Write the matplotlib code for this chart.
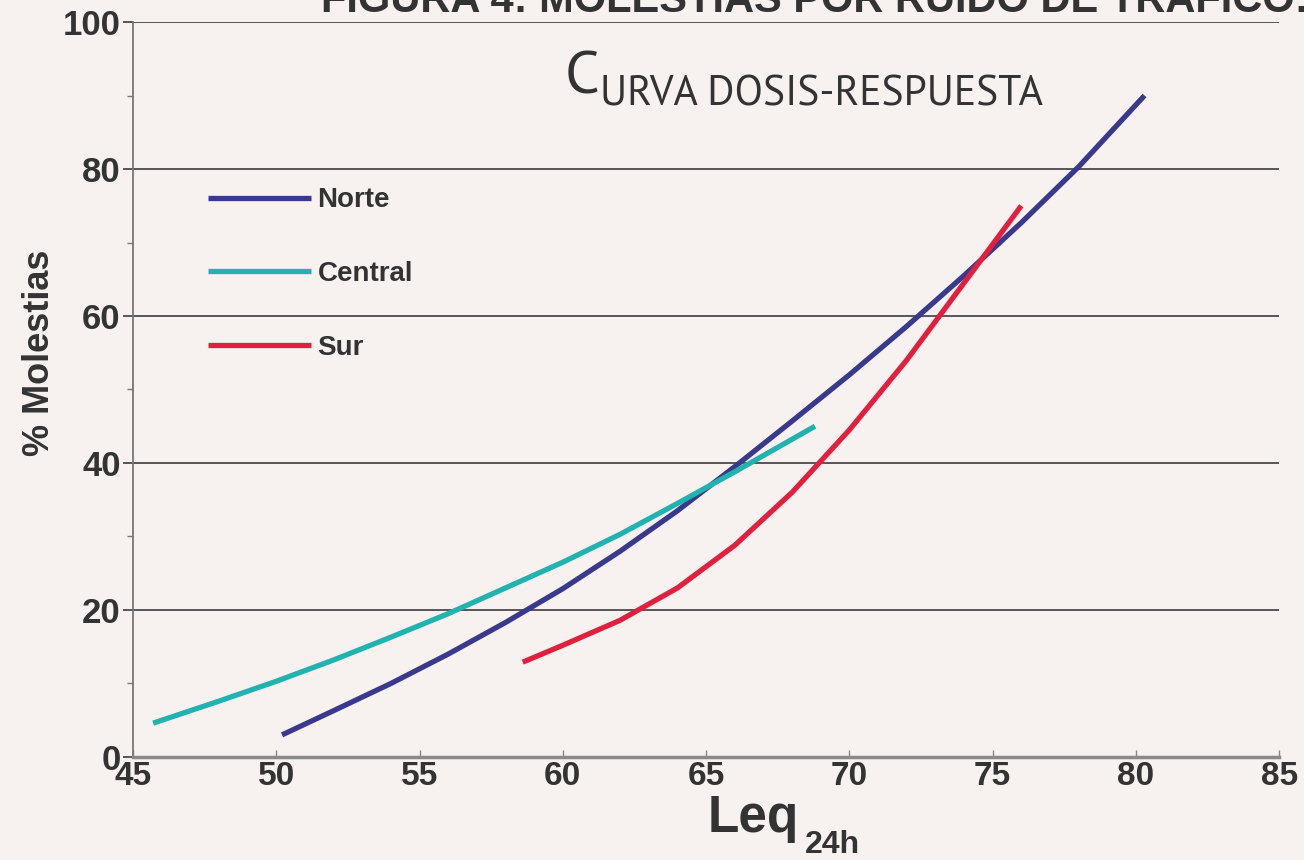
import matplotlib.pyplot as plt
import numpy as np

# curve values
norte_x = [50.2, 52.0, 54.0, 56.0, 58.0, 60.0, 62.0, 64.0, 66.0, 68.0, 70.0, 72.0, 74.0, 76.0, 78.0, 80.3]
norte_y = [3.0, 6.3, 10.0, 14.0, 18.3, 22.9, 28.0, 33.5, 39.5, 45.7, 52.0, 58.6, 65.5, 72.7, 80.3, 90.0]

central_x = [45.7, 48.0, 50.0, 52.0, 54.0, 56.0, 58.0, 60.0, 62.0, 64.0, 66.0, 68.8]
central_y = [4.6, 7.6, 10.3, 13.2, 16.3, 19.5, 23.0, 26.5, 30.3, 34.5, 38.8, 45.0]

sur_x = [58.6, 60.0, 62.0, 64.0, 66.0, 68.0, 70.0, 72.0, 74.0, 76.0]
sur_y = [12.9, 15.2, 18.6, 23.0, 28.8, 36.0, 44.5, 54.0, 64.5, 75.0]

series = [("Norte", norte_x, norte_y, "#3a3a8c"),
          ("Central", central_x, central_y, "#20b3b0"),
          ("Sur", sur_x, sur_y, "#e0203e")]

x_ticks = [45, 50, 55, 60, 65, 70, 75, 80, 85]
y_ticks = [0, 20, 40, 60, 80, 100]

bg = "#f7f1ef"
ink = "#333333"

fig = plt.figure(figsize=(13.04, 8.6), dpi=100, facecolor=bg)
ax = fig.add_axes([0.102, 0.1198, 0.879, 0.8546], facecolor=bg)

for name, xs, ys, col in series:
    ax.plot(xs, ys, color=col, lw=3.8, label=name, solid_capstyle="butt",
            solid_joinstyle="round")

ax.set_xlim(45, 85)
ax.set_ylim(0, 100)
ax.set_xticks(x_ticks)
ax.set_yticks(y_ticks)
ax.set_yticks([10, 30, 50, 70, 90], minor=True)

for y in y_ticks[1:]:
    ax.axhline(y, color="#4a4a4a", lw=1.3, zorder=0)

for s in ["top", "right"]:
    ax.spines[s].set_visible(False)
ax.spines["left"].set_color("#777777")
ax.spines["left"].set_linewidth(1.3)
ax.spines["bottom"].set_color("#8a8a8a")
ax.spines["bottom"].set_linewidth(2.5)

ax.tick_params(axis="y", which="major", length=7, width=1.3, color="#4a4a4a", pad=2)
ax.tick_params(axis="y", which="minor", length=4, width=1, color="#777777")
ax.tick_params(axis="x", direction="in", length=5, width=1, color="#888888", pad=3)

for lab in ax.get_yticklabels():
    lab.set_fontfamily("Liberation Sans")
    lab.set_fontweight("bold")
    lab.set_fontsize(25)
    lab.set_color(ink)
for lab in ax.get_xticklabels():
    lab.set_fontfamily("Liberation Sans")
    lab.set_fontweight("bold")
    lab.set_fontsize(24)
    lab.set_color(ink)

ax.set_ylabel("% Molestias", fontsize=26, fontweight="bold", fontfamily="Liberation Sans",
              color=ink)
ax.yaxis.set_label_coords(-0.066, 0.55)

# x label with subscript
leq = fig.text(0.543, 0.032, "Leq", fontsize=37, fontweight="bold",
               fontfamily="Liberation Sans", color=ink)
ax.annotate("24h", xy=(1, 0), xycoords=leq, xytext=(4, -7), textcoords="offset points",
            fontsize=23, fontweight="bold", fontfamily="Liberation Sans", color=ink,
            va="baseline")

leg = ax.legend(loc="upper left", bbox_to_anchor=(0.065, 0.775), frameon=False,
                handlelength=3.74, handletextpad=0.22, labelspacing=1.72,
                borderpad=0, borderaxespad=0,
                prop={"family": "Liberation Sans", "weight": "bold", "size": 20})
for t in leg.get_texts():
    t.set_color(ink)

# subtitle in small caps
sub_font = ["PT Sans", "Lato"]
c = fig.text(0.433, 0.891, "C", fontsize=44, fontfamily=sub_font, color=ink)
ax.annotate("URVA DOSIS-RESPUESTA", xy=(1, 0), xycoords=c, xytext=(0, 0),
            textcoords="offset points", fontsize=30, fontfamily=sub_font, color=ink)

# title clipped at the top edge
fig.text(0.625, 0.986, "FIGURA 4: MOLESTIAS POR RUIDO DE TRÁFICO:", fontsize=30,
         fontweight="bold", fontfamily="Liberation Sans", color=ink,
         ha="center", va="baseline")

fig.savefig("out.png", dpi=100, facecolor=bg)
